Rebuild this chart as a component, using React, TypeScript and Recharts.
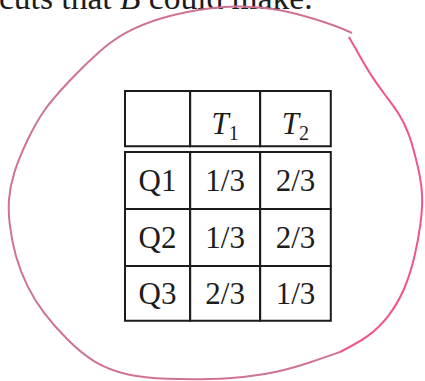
import React from "react";
import { ComposedChart, XAxis, YAxis, Line, ReferenceArea, Customized } from "recharts";

// ---- table content ----
const columnHeaders = ["", "T1", "T2"];
const rowLabels = ["Q1", "Q2", "Q3"];
const t1Values = ["1/3", "1/3", "2/3"];
const t2Values = ["2/3", "2/3", "1/3"];

// table grid edges, in table units (columns / rows)
const columnEdges = [0, 0.93, 1.93, 2.94];
const headerRowEdges = [0, 0.97];
const bodyRowEdges = [1.07, 2.07, 3.07, 4.03];

// hand-drawn loop around the table (same table units)
const loopInkFaded = [
  { u: 3.243, v: -1.018 },
  { u: 3.057, v: -1.123 },
  { u: 2.671, v: -1.281 },
  { u: 2.2, v: -1.439 },
  { u: 1.714, v: -1.491 },
  { u: 1.243, v: -1.474 },
  { u: 0.5, v: -1.298 },
  { u: -0.029, v: -1.018 },
  { u: -0.357, v: -0.719 },
  { u: -0.829, v: -0.14 },
  { u: -1.171, v: 0.333 },
  { u: -1.4, v: 0.86 },
  { u: -1.6, v: 1.439 },
  { u: -1.671, v: 1.912 },
  { u: -1.657, v: 2.316 },
  { u: -1.571, v: 2.912 },
  { u: -1.4, v: 3.439 },
  { u: -1.171, v: 3.895 },
  { u: -0.829, v: 4.368 },
  { u: -0.457, v: 4.772 },
  { u: 0.029, v: 5.0 },
  { u: 0.6, v: 5.06 },
  { u: 1.243, v: 5.06 },
  { u: 1.714, v: 5.025 },
  { u: 2.2, v: 4.93 },
  { u: 2.671, v: 4.754 },
  { u: 3.071, v: 4.579 },
];

const loopInkBright = [
  { u: 3.071, v: 4.579 },
  { u: 3.486, v: 4.316 },
  { u: 3.771, v: 3.965 },
  { u: 4.0, v: 3.491 },
  { u: 4.143, v: 2.912 },
  { u: 4.229, v: 2.316 },
  { u: 4.257, v: 1.86 },
  { u: 4.214, v: 1.474 },
  { u: 4.143, v: 1.123 },
  { u: 4.057, v: 0.737 },
  { u: 3.914, v: 0.386 },
  { u: 3.714, v: 0.07 },
  { u: 3.529, v: -0.246 },
  { u: 3.386, v: -0.544 },
  { u: 3.257, v: -0.825 },
  { u: 3.2, v: -0.947 },
];

const captionText = "cuts that B could make.";

const SERIF = "'Liberation Serif', 'DejaVu Serif', serif";
const INK = "#1c1c1c";

type CellSpec = { key: string; x1: number; x2: number; y1: number; y2: number; text: string; header: boolean };

const cells: CellSpec[] = [];
columnHeaders.forEach((h, c) => {
  cells.push({ key: `h-${c}`, x1: columnEdges[c], x2: columnEdges[c + 1], y1: headerRowEdges[0], y2: headerRowEdges[1], text: h, header: true });
});
rowLabels.forEach((label, r) => {
  const rowTexts = [label, t1Values[r], t2Values[r]];
  rowTexts.forEach((t, c) => {
    cells.push({ key: `b-${r}-${c}`, x1: columnEdges[c], x2: columnEdges[c + 1], y1: bodyRowEdges[r], y2: bodyRowEdges[r + 1], text: t, header: false });
  });
});

function makeCellLabel(cell: CellSpec) {
  return (props: any) => {
    const vb = props.viewBox || {};
    const cx = vb.x + vb.width / 2;
    const cy = vb.y + vb.height / 2;
    if (!cell.text) return null;
    if (cell.header) {
      const letter = cell.text.charAt(0);
      const sub = cell.text.slice(1);
      return (
        <text x={cx} y={cy + 15} textAnchor="middle" fontFamily={SERIF} fontSize={31} fill={INK}>
          <tspan fontStyle="italic">{letter}</tspan>
          <tspan fontSize={20} dy={6}>{sub}</tspan>
        </text>
      );
    }
    return (
      <text x={cx} y={cy + 11} textAnchor="middle" fontFamily={SERIF} fontSize={31} fill={INK}>
        {cell.text}
      </text>
    );
  };
}

const Caption = () => {
  const words = captionText.split("B");
  return (
    <text x={-1} y={8.5} fontFamily={SERIF} fontSize={33.5} fill={INK}>
      {words[0]}
      <tspan fontStyle="italic">B</tspan>
      {words[1]}
    </text>
  );
};

export default function App() {
  return (
    <div style={{ position: "absolute", left: 0, top: 0, width: 425, height: 381, background: "#fff" }}>
      <ComposedChart width={425} height={381} margin={{ top: 0, right: 0, bottom: 0, left: 0 }}>
        <XAxis type="number" dataKey="u" domain={[-125 / 70, 300 / 70]} hide allowDataOverflow />
        <YAxis type="number" dataKey="v" domain={[-91 / 57, 290 / 57]} reversed hide allowDataOverflow />
        {cells.map((cell) => (
          <ReferenceArea
            key={cell.key}
            x1={cell.x1}
            x2={cell.x2}
            y1={cell.y1}
            y2={cell.y2}
            fill="#ffffff"
            fillOpacity={0}
            stroke={INK}
            strokeWidth={2}
            strokeOpacity={1}
            ifOverflow="visible"
            label={makeCellLabel(cell)}
          />
        ))}
        <Line
          data={loopInkFaded}
          dataKey="v"
          type="basis"
          stroke="#cf7394"
          strokeWidth={2}
          dot={false}
          activeDot={false}
          isAnimationActive={false}
        />
        <Line
          data={loopInkBright}
          dataKey="v"
          type="basis"
          stroke="#f25585"
          strokeWidth={2}
          dot={false}
          activeDot={false}
          isAnimationActive={false}
        />
        <Customized component={Caption} />
      </ComposedChart>
    </div>
  );
}
